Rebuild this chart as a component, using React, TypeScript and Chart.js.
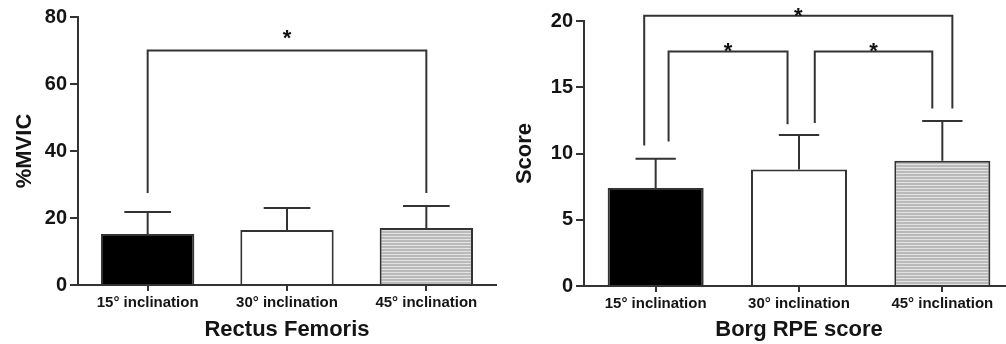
import React, { useEffect, useRef } from 'react';
import { Chart, registerables } from 'chart.js';

Chart.register(...registerables);

// ---- data ----
const categories = ['15° inclination', '30° inclination', '45° inclination'];
const mvicMeans = [15.2, 16.4, 17.0];
const mvicSD = [6.6, 6.6, 6.6];
const mvicTicks = [0, 20, 40, 60, 80];
const borgMeans = [7.4, 8.8, 9.45];
const borgSD = [2.2, 2.6, 3.0];
const borgTicks = [0, 5, 10, 15, 20];
// significance brackets: [fromIndex, toIndex, level, leftLegEnd, rightLegEnd]
const mvicBrackets = [[0, 2, 70, 27.5, 27.5]];
const borgBrackets = [
  [-0.08, 2.07, 20.4, 10.6, 13.4],
  [0.09, 0.92, 17.7, 10.9, 12.2],
  [1.11, 1.93, 17.7, 12.3, 13.4],
];
const sigMark = '*';

const FONT = "'Liberation Sans', Arial, sans-serif";
const INK = '#333333';
const TEXT = '#141414';

function makePattern(): CanvasPattern | string {
  const c = document.createElement('canvas');
  c.width = 4;
  c.height = 3;
  const g = c.getContext('2d');
  if (!g) return '#c4c4c4';
  g.fillStyle = '#bababa';
  g.fillRect(0, 0, 4, 3);
  g.fillStyle = '#e2e2e2';
  g.fillRect(0, 2, 4, 1);
  return g.createPattern(c, 'repeat') || '#c4c4c4';
}

type Opts = {
  means: number[];
  sd: number[];
  ticks: number[];
  brackets: number[][];
  yTitle: string;
  xTitle: string;
  yWidth: number;
  xHeight: number;
  padTop: number;
  padRight: number;
  capFrac: number;
  starGap: number;
};

function makeConfig(o: Opts): any {
  const pattern = makePattern();
  const overlay = {
    id: 'overlay',
    afterDatasetsDraw(chart: any) {
      const ctx = chart.ctx;
      const xs = chart.scales.x;
      const ys = chart.scales.y;
      const meta = chart.getDatasetMeta(0);
      ctx.save();
      ctx.strokeStyle = INK;
      ctx.lineWidth = 2;
      meta.data.forEach((bar: any, i: number) => {
        const top = ys.getPixelForValue(o.means[i] + o.sd[i]);
        const half = (bar.width * o.capFrac) / 2;
        ctx.beginPath();
        ctx.moveTo(bar.x, bar.y);
        ctx.lineTo(bar.x, top);
        ctx.moveTo(bar.x - half, top);
        ctx.lineTo(bar.x + half, top);
        ctx.stroke();
      });
      o.brackets.forEach((b) => {
        const x1 = xs.getPixelForValue(b[0]);
        const x2 = xs.getPixelForValue(b[1]);
        const yb = ys.getPixelForValue(b[2]);
        const y1 = ys.getPixelForValue(b[3]);
        const y2 = ys.getPixelForValue(b[4]);
        ctx.beginPath();
        ctx.moveTo(x1, y1);
        ctx.lineTo(x1, yb);
        ctx.lineTo(x2, yb);
        ctx.lineTo(x2, y2);
        ctx.stroke();
        ctx.fillStyle = '#111';
        ctx.font = `bold 22px ${FONT}`;
        ctx.textAlign = 'center';
        ctx.textBaseline = 'alphabetic';
        ctx.fillText(sigMark, (x1 + x2) / 2, yb - o.starGap + 12);
      });
      ctx.restore();
    },
  };
  return {
    type: 'bar',
    data: {
      labels: categories,
      datasets: [
        {
          data: o.means,
          backgroundColor: ['#000000', '#ffffff', pattern],
          borderColor: INK,
          borderWidth: 2,
          barPercentage: 0.67,
          categoryPercentage: 1,
        },
      ],
    },
    options: {
      animation: false,
      responsive: false,
      devicePixelRatio: 1,
      layout: { padding: { top: o.padTop, right: o.padRight, left: 0, bottom: 0 } },
      plugins: { legend: { display: false }, tooltip: { enabled: false } },
      scales: {
        x: {
          offset: true,
          grid: {
            offset: false,
            drawOnChartArea: false,
            drawTicks: true,
            tickLength: 6,
            color: INK,
            lineWidth: 2,
          },
          border: { display: true, color: INK, width: 2 },
          ticks: { color: TEXT, font: { family: FONT, size: 15, weight: 'bold' }, padding: 3, maxRotation: 0 },
          title: {
            display: true,
            text: o.xTitle,
            color: TEXT,
            font: { family: FONT, size: 22, weight: 'bold' },
            padding: { top: 0, bottom: 1 },
          },
          afterFit: (s: any) => {
            s.height = o.xHeight;
          },
        },
        y: {
          min: 0,
          max: o.ticks[o.ticks.length - 1],
          afterBuildTicks: (s: any) => {
            s.ticks = o.ticks.map((v) => ({ value: v }));
          },
          grid: {
            drawOnChartArea: false,
            drawTicks: true,
            tickLength: 8,
            color: INK,
            lineWidth: 2,
          },
          border: { display: true, color: INK, width: 2 },
          ticks: { color: TEXT, font: { family: FONT, size: 20, weight: 'bold' }, padding: 3 },
          title: {
            display: true,
            text: o.yTitle,
            color: TEXT,
            font: { family: FONT, size: 22, weight: 'bold' },
            padding: { top: 12, bottom: 0 },
          },
          afterFit: (s: any) => {
            s.width = o.yWidth;
          },
        },
      },
    },
    plugins: [overlay],
  };
}

function BarPanel(props: { opts: Opts; left: number; width: number }) {
  const ref = useRef<HTMLCanvasElement | null>(null);
  useEffect(() => {
    if (!ref.current) return;
    const chart = new Chart(ref.current, makeConfig(props.opts));
    return () => chart.destroy();
  }, []);
  return (
    <canvas
      ref={ref}
      width={props.width}
      height={344}
      style={{ position: 'absolute', left: props.left, top: 0, width: props.width, height: 344 }}
    />
  );
}

export default function App() {
  const left: Opts = {
    means: mvicMeans,
    sd: mvicSD,
    ticks: mvicTicks,
    brackets: mvicBrackets,
    yTitle: '%MVIC',
    xTitle: 'Rectus Femoris',
    yWidth: 78,
    xHeight: 59,
    padTop: 17,
    padRight: 4,
    capFrac: 0.5,
    starGap: 18,
  };
  const right: Opts = {
    means: borgMeans,
    sd: borgSD,
    ticks: borgTicks,
    brackets: borgBrackets,
    yTitle: 'Score',
    xTitle: 'Borg RPE score',
    yWidth: 84,
    xHeight: 58,
    padTop: 21,
    padRight: 6,
    capFrac: 0.42,
    starGap: 5,
  };
  return (
    <div
      style={{
        position: 'fixed',
        left: 0,
        top: 0,
        width: 1006,
        height: 344,
        overflow: 'hidden',
        background: '#ffffff',
      }}
    >
      <BarPanel opts={left} left={0} width={500} />
      <BarPanel opts={right} left={500} width={520} />
    </div>
  );
}
